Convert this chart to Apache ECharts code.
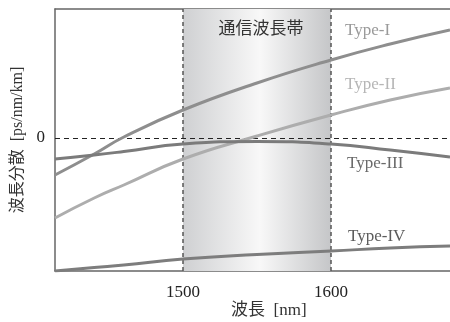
<!DOCTYPE html>
<html>
<head>
<meta charset="utf-8">
<script src="https://cdn.jsdelivr.net/npm/echarts@6/dist/echarts.min.js"></script>
<style>
  html, body { margin: 0; padding: 0; background: #fff; }
  #chart { width: 450px; height: 322px; }
</style>
</head>
<body>
<div id="chart"></div>
<script>
// Wavelength samples [nm]
const wavelengths = [1413.5, 1440, 1460, 1500, 1550, 1600, 1640, 1680.4];
// Chromatic dispersion [ps/nm/km] of each fibre type
const typeI   = [-3.7, -1.6, 0.1, 2.8, 5.5, 7.8, 9.4, 10.8];
const typeII  = [-8.0, -6.0, -4.7, -2.1, 0.2, 2.3, 3.8, 5.0];
const typeIII = [-2.1, -1.7, -1.35, -0.6, -0.35, -0.6, -1.2, -1.9];
const typeIV  = [-13.3, -12.95, -12.7, -12.1, -11.65, -11.3, -11.0, -10.8];
const seriesNames = ['Type-I', 'Type-II', 'Type-III', 'Type-IV'];
// Where each series name is written, in data units [nm, ps/nm/km]
const nameAnchors = [[1609.5, 10.7], [1609.5, 5.3], [1610.8, -2.6], [1611.5, -9.9]];
// Telecom band
const bandRange = [1500, 1600];
const bandLabel = '通信波長帯';
const xTicks = [1500, 1600];
const yTicks = [0];

const lineColors = ['#8e8e8e', '#adadad', '#7b7b7b', '#7d7d7d'];
const nameColors = ['#9a9a9a', '#b6b6b6', '#6a6a6a', '#5c5c5c'];
const latin = '"Liberation Serif", "Times New Roman", serif';
const cjk = '"Liberation Serif", "Noto Sans CJK JP", serif';

const values = [typeI, typeII, typeIII, typeIV];

const series = values.map((vals, i) => ({
  name: seriesNames[i],
  type: 'line',
  data: wavelengths.map((w, k) => [w, vals[k]]),
  smooth: true,
  symbol: 'none',
  z: 5,
  lineStyle: { color: lineColors[i], width: 3 },
  markPoint: {
    symbol: 'rect',
    symbolSize: 0,
    silent: true,
    label: {
      show: true,
      position: 'right',
      distance: 0,
      formatter: seriesNames[i],
      color: nameColors[i],
      fontFamily: latin,
      fontSize: 17
    },
    data: [{ coord: nameAnchors[i] }]
  }
}));

// Shaded band, its dashed edges and the zero reference line
series.push({
  type: 'line',
  data: [],
  z: 1,
  markArea: {
    silent: true,
    itemStyle: {
      opacity: 1,
      color: {
        type: 'linear', x: 0, y: 0, x2: 1, y2: 0,
        colorStops: [
          { offset: 0, color: '#cfd0d2' },
          { offset: 0.52, color: '#f8f8f8' },
          { offset: 1, color: '#c5c6c8' }
        ]
      }
    },
    label: {
      show: true,
      position: 'insideTop',
      distance: 12,
      offset: [4, 0],
      formatter: bandLabel,
      color: '#333',
      fontFamily: cjk,
      fontSize: 17
    },
    data: [[{ xAxis: bandRange[0] }, { xAxis: bandRange[1] }]]
  },
  markLine: {
    silent: true,
    symbol: 'none',
    label: { show: false },
    data: [
      { xAxis: bandRange[0], lineStyle: { color: '#555', width: 1.5, type: [4, 3] } },
      { xAxis: bandRange[1], lineStyle: { color: '#555', width: 1.5, type: [4, 3] } },
      { yAxis: 0, lineStyle: { color: '#222', width: 1, type: [5, 4] } }
    ]
  }
});

const chart = echarts.init(document.getElementById('chart'), null, { renderer: 'canvas' });
chart.setOption({
  animation: false,
  backgroundColor: '#fff',
  grid: { left: 55, top: 9, right: 0, bottom: 51 },
  xAxis: [{
    type: 'value',
    min: wavelengths[0],
    max: wavelengths[wavelengths.length - 1],
    axisLine: { show: true, onZero: false, lineStyle: { color: '#666', width: 1.5 } },
    axisTick: { show: false },
    splitLine: { show: false },
    axisLabel: {
      customValues: xTicks,
      formatter: v => String(v),
      margin: 13,
      color: '#222',
      fontFamily: latin,
      fontSize: 17
    }
  }, {
    type: 'value',
    position: 'top',
    min: wavelengths[0],
    max: wavelengths[wavelengths.length - 1],
    axisLine: { show: true, onZero: false, lineStyle: { color: '#666', width: 1.5 } },
    axisTick: { show: false },
    axisLabel: { show: false },
    splitLine: { show: false }
  }],
  yAxis: {
    type: 'value',
    min: -13.3,
    max: 12.9,
    axisLine: { show: true, onZero: false, lineStyle: { color: '#666', width: 1.5 } },
    axisTick: { show: false },
    splitLine: { show: false },
    axisLabel: {
      customValues: yTicks,
      formatter: v => String(v),
      margin: 10,
      color: '#222',
      fontFamily: latin,
      fontSize: 17
    },
    name: '波長分散  [ps/nm/km]',
    nameLocation: 'middle',
    nameGap: 27,
    nameRotate: 90,
    nameTextStyle: { color: '#333', fontFamily: cjk, fontSize: 16 }
  },
  graphic: [{
    type: 'text',
    left: 231,
    top: 302,
    style: { text: '波長  [nm]', fill: '#333', font: '17px ' + cjk }
  }],
  series: series
});
</script>
</body>
</html>
